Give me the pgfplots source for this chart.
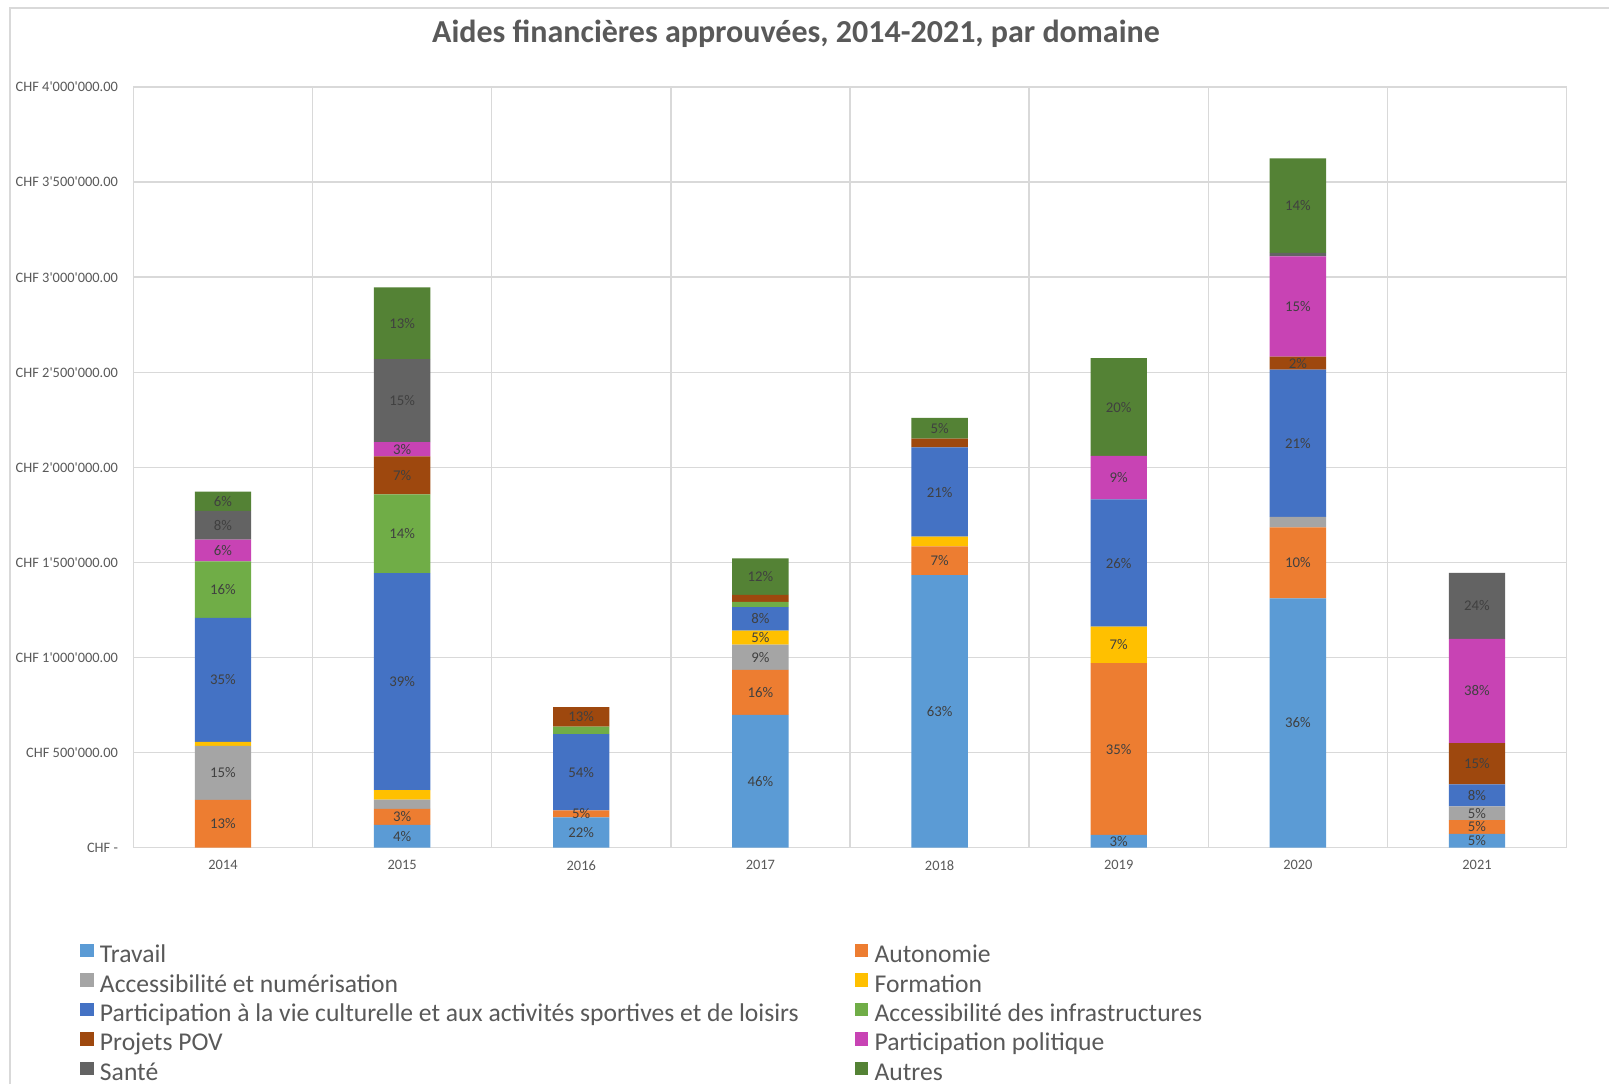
\documentclass[border=0pt]{standalone}
\usepackage{fontspec}
\setmainfont{Carlito}
\usepackage{pgfplots}
\pgfplotsset{compat=1.18}
\usepackage{pgfplotstable}

\definecolor{cTrav}{HTML}{5B9BD5}
\definecolor{cAuto}{HTML}{ED7D31}
\definecolor{cNum}{HTML}{A5A5A5}
\definecolor{cForm}{HTML}{FFC000}
\definecolor{cCult}{HTML}{4472C4}
\definecolor{cInfra}{HTML}{70AD47}
\definecolor{cPOV}{HTML}{9E480E}
\definecolor{cPol}{HTML}{C843B4}
\definecolor{cSante}{HTML}{636363}
\definecolor{cAutres}{HTML}{548235}
\definecolor{gridc}{HTML}{D9D9D9}
\definecolor{txt}{HTML}{595959}
\definecolor{lab}{HTML}{404040}

% values in thousands of CHF
\pgfplotstableread{
x T A N F C I P Q S O
0 0 250 285 21 652 297 0 114 152 101
1 119 84 49 50 1142 413 201 74 437 378
2 159 37 0 0 400 40 102 0 0 0
3 698 237 132 74 124 27 37 0 0 192
4 1433 151 0 51 470 0 46 0 0 109
5 66 904 0 192 669 0 0 229 0 514
6 1310 374 55 0 775 0 68 527 19 497
7 72 72 72 0 116 0 217 549 347 0
}\datatable

\pgfplotstableread{
x y lab
0 125 13
0 392.5 15
0 882 35
0 1356.5 16
0 1562 6
0 1695 8
0 1821.5 6
1 59.5 4
1 161 3
1 873 39
1 1650.5 14
1 1957.5 7
1 2095 3
1 2350.5 15
1 2758 13
2 79.5 22
2 177.5 5
2 396 54
2 687 13
3 349 46
3 816.5 16
3 1001 9
3 1104 5
3 1203 8
3 1425 12
4 716.5 63
4 1508.5 7
4 1870 21
4 2205.5 5
5 33 3
5 518 35
5 1066 7
5 1496.5 26
5 1945.5 9
5 2317 20
6 655 36
6 1497 10
6 2126.5 21
6 2548 2
6 2845.5 15
6 3376.5 14
7 36 5
7 108 5
7 180 5
7 274 8
7 440.5 15
7 823.5 38
7 1271.5 24
}\labtable

\newcommand{\LE}[1]{\makebox[377.5pt][l]{#1}}

\begin{document}
\begin{tikzpicture}
\path[use as bounding box] (0,0) rectangle (804.5pt,542pt);
\fill[white] (0,0) rectangle (804.5pt,542pt);
\draw[gridc, line width=0.75pt] (5.1pt,0) -- (5.1pt,537.9pt) -- (804.5pt,537.9pt);

\node[text=txt, font=\fontsize{16}{18}\selectfont\bfseries] at (398pt,525pt) {Aides financières approuvées, 2014-2021, par domaine};

\begin{axis}[
  at={(66.7pt,118.25pt)}, anchor=south west,
  scale only axis, width=716.6pt, height=380.2pt,
  ybar stacked, bar width=28.2pt,
  xmin=-0.5, xmax=7.5, ymin=0, ymax=4000,
  xtick={0,1,2,3,4,5,6,7},
  xticklabels={2014,2015,2016,2017,2018,2019,2020,2021},
  minor xtick={-0.5,0.5,1.5,2.5,3.5,4.5,5.5,6.5,7.5},
  ytick={0,500,1000,1500,2000,2500,3000,3500,4000},
  yticklabels={CHF -\hspace{4pt},CHF 500\textquotesingle000.00,CHF 1\textquotesingle000\textquotesingle000.00,CHF 1\textquotesingle500\textquotesingle000.00,CHF 2\textquotesingle000\textquotesingle000.00,CHF 2\textquotesingle500\textquotesingle000.00,CHF 3\textquotesingle000\textquotesingle000.00,CHF 3\textquotesingle500\textquotesingle000.00,CHF 4\textquotesingle000\textquotesingle000.00},
  xminorgrids=true, ymajorgrids=true, xmajorgrids=false,
  grid style={gridc, line width=0.75pt},
  minor grid style={gridc, line width=0.75pt},
  axis line style={draw=none},
  major tick length=0pt, minor tick length=0pt,
  tick label style={text=txt, font=\fontsize{7.2}{8.5}\selectfont},
  yticklabel style={xshift=-4.2pt},
  xticklabel style={yshift=-3pt},
  legend columns=2,
  legend style={at={(-0.03726,-0.1246)}, anchor=north west, draw=none, fill=none,
    inner sep=0pt, font=\fontsize{12.8}{14}\selectfont, text=txt,
    nodes={inner sep=0pt, text height=10pt, text depth=2.5pt},
    row sep=2.2pt,
    /tikz/every odd column/.append style={column sep=3.1pt}},
  legend image code/.code={\fill[#1, draw=none] (0pt,-1.1pt) rectangle (6.7pt,5.6pt);},
]
\addplot[fill=cTrav, draw=none] table[x=x, y=T] {\datatable};
\addlegendentry{\LE{Travail}}
\addplot[fill=cAuto, draw=none] table[x=x, y=A] {\datatable};
\addlegendentry{\LE{Autonomie}}
\addplot[fill=cNum, draw=none] table[x=x, y=N] {\datatable};
\addlegendentry{\LE{Accessibilité et numérisation}}
\addplot[fill=cForm, draw=none] table[x=x, y=F] {\datatable};
\addlegendentry{\LE{Formation}}
\addplot[fill=cCult, draw=none] table[x=x, y=C] {\datatable};
\addlegendentry{\LE{Participation à la vie culturelle et aux activités sportives et de loisirs}}
\addplot[fill=cInfra, draw=none] table[x=x, y=I] {\datatable};
\addlegendentry{\LE{Accessibilité des infrastructures}}
\addplot[fill=cPOV, draw=none] table[x=x, y=P] {\datatable};
\addlegendentry{\LE{Projets POV}}
\addplot[fill=cPol, draw=none] table[x=x, y=Q] {\datatable};
\addlegendentry{\LE{Participation politique}}
\addplot[fill=cSante, draw=none] table[x=x, y=S] {\datatable};
\addlegendentry{\LE{Santé}}
\addplot[fill=cAutres, draw=none] table[x=x, y=O] {\datatable};
\addlegendentry{\LE{Autres}}
\end{axis}

\begin{axis}[
  at={(66.7pt,118.25pt)}, anchor=south west,
  scale only axis, width=716.6pt, height=380.2pt,
  xmin=-0.5, xmax=7.5, ymin=0, ymax=4000,
  hide axis, clip=false,
]
\addplot[only marks, mark=none, point meta=explicit symbolic,
  nodes near coords={\pgfplotspointmeta\%},
  nodes near coords align=center,
  every node near coord/.style={anchor=center, text=lab, font=\fontsize{7.4}{8.5}\selectfont, inner sep=0pt}]
  table[x=x, y=y, meta=lab] {\labtable};
\end{axis}
\end{tikzpicture}
\end{document}
